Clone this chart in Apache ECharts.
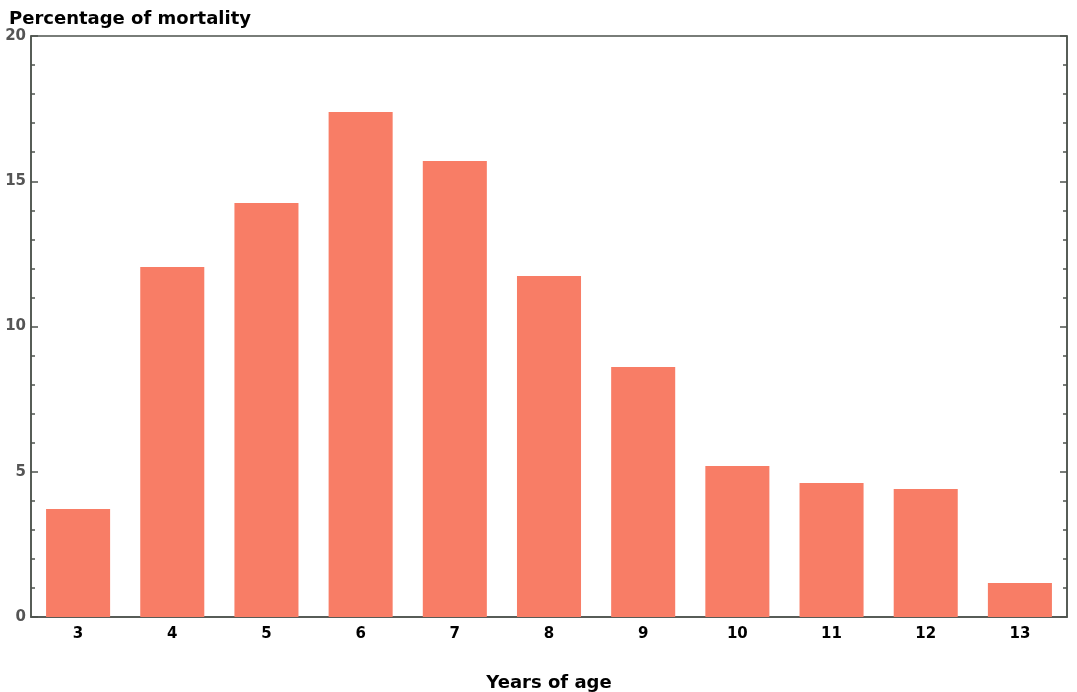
<!DOCTYPE html>
<html><head><meta charset="utf-8">
<script src="https://cdn.jsdelivr.net/npm/echarts@6/dist/echarts.min.js"></script>
<style>html,body{margin:0;padding:0;background:#fff}#c{width:1077px;height:692px}</style>
</head><body><div id="c"></div>
<script>
const categories = ['3','4','5','6','7','8','9','10','11','12','13'];
const mortality = [3.72, 12.05, 14.25, 17.38, 15.70, 11.74, 8.61, 5.20, 4.61, 4.41, 1.17];
const yTitle = 'Percentage of mortality';
const xTitle = 'Years of age';

const chart = echarts.init(document.getElementById('c'));
const axisColor = '#4d534d';
const yBase = {
  type: 'value', min: 0, max: 20, interval: 5,
  axisLine: { show: true, lineStyle: { color: axisColor, width: 1.5 } },
  axisTick: { show: true, inside: true, length: 7, lineStyle: { color: axisColor, width: 1.5 } },
  minorTick: { show: true, splitNumber: 5, length: 4, lineStyle: { color: axisColor, width: 1.5 } },
  splitLine: { show: false }
};
chart.setOption({
  animation: false,
  title: { text: yTitle, left: 4, top: 5,
    textStyle: { fontFamily: 'DejaVu Sans', fontWeight: 'bold', fontSize: 18, color: '#000' } },
  grid: { left: 31, right: 10, top: 36, bottom: 75, show: true, borderColor: axisColor, borderWidth: 1.5,
    containLabel: false, outerBoundsMode: 'none' },
  xAxis: {
    type: 'category', data: categories, boundaryGap: true,
    name: xTitle, nameLocation: 'middle', nameGap: 57,
    nameTextStyle: { fontFamily: 'DejaVu Sans', fontWeight: 'bold', fontSize: 18, color: '#000' },
    axisLine: { show: true, lineStyle: { color: axisColor, width: 1.5 } },
    axisTick: { show: false },
    axisLabel: { fontFamily: 'DejaVu Sans', fontWeight: 'bold', fontSize: 15, color: '#000', margin: 10 }
  },
  yAxis: [
    Object.assign({}, yBase, { position: 'left',
      axisLabel: { fontFamily: 'DejaVu Sans', fontWeight: 'bold', fontSize: 15, color: '#555', margin: 5 } }),
    Object.assign({}, yBase, { position: 'right', axisLabel: { show: false } })
  ],
  series: [{
    type: 'bar', data: mortality, yAxisIndex: 0, barCategoryGap: '32%',
    itemStyle: { color: '#f87d66' }
  }]
});
</script></body></html>
